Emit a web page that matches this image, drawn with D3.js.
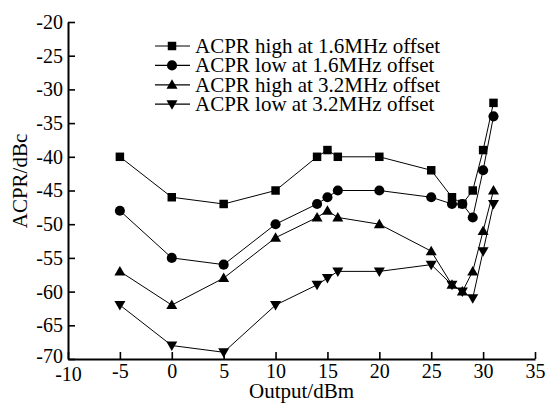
<!DOCTYPE html>
<html>
<head>
<meta charset="utf-8">
<script src="https://cdn.jsdelivr.net/npm/d3@7"></script>
<style>
body{margin:0;background:#fff;}
text{font-family:"Liberation Serif","Times New Roman",serif;fill:#000;}
</style>
</head>
<body>
<div id="chart"></div>
<script>
const WIDTH=547;
const HEIGHT=406;
const MARGIN={top:22,right:12,bottom:47,left:68};

// data
const outputDbm=[-5,0,5,10,14,15,16,20,25,27,28,29,30,31];
const highAt16=[-40,-46,-47,-45,-40,-39,-40,-40,-42,-46,-47,-45,-39,-32];
const lowAt16=[-48,-55,-56,-50,-47,-46,-45,-45,-46,-47,-47,-49,-42,-34];
const highAt32=[-57,-62,-58,-52,-49,-48,-49,-50,-54,-59,-60,-57,-51,-45];
const lowAt32=[-62,-68,-69,-62,-59,-58,-57,-57,-56,-59,-60,-61,-54,-47];
const seriesNames=["ACPR high at 1.6MHz offset","ACPR low at 1.6MHz offset","ACPR high at 3.2MHz offset","ACPR low at 3.2MHz offset"];
const xTicks=[-10,-5,0,5,10,15,20,25,30,35];
const yTicks=[-20,-25,-30,-35,-40,-45,-50,-55,-60,-65,-70];

const series=[
  {name:seriesNames[0],values:highAt16,symbol:d3.symbolSquare},
  {name:seriesNames[1],values:lowAt16,symbol:d3.symbolCircle},
  {name:seriesNames[2],values:highAt32,symbol:"up"},
  {name:seriesNames[3],values:lowAt32,symbol:"down"}
];

const svg=d3.select("#chart").append("svg")
  .attr("width",WIDTH).attr("height",HEIGHT);

const x=d3.scaleLinear().domain([-10,35]).range([MARGIN.left,WIDTH-MARGIN.right]);
const y=d3.scaleLinear().domain([-70,-20]).range([HEIGHT-MARGIN.bottom,MARGIN.top]);

function marker(sel,sym){
  if(sym==="up"||sym==="down"){
    const s=sym==="up"?1:-1;
    sel.append("path").attr("d",`M0,${-5.5*s}L5.5,${4*s}L-5.5,${4*s}Z`);
  }else{
    const size=sym===d3.symbolSquare?72:80;
    sel.append("path").attr("d",d3.symbol(sym,size)());
  }
}

const fmt=d=>String(d); // plain hyphen minus like the original

// axes
const xAxis=svg.append("g")
  .attr("transform",`translate(0,${y(-70)})`)
  .call(d3.axisBottom(x).tickValues(xTicks).tickSizeInner(-7).tickSizeOuter(0).tickPadding(5).tickFormat(fmt));
const yAxis=svg.append("g")
  .attr("transform",`translate(${x(-10)},0)`)
  .call(d3.axisLeft(y).tickValues(yTicks).tickSizeInner(-7).tickSizeOuter(0).tickPadding(5).tickFormat(fmt));

[xAxis,yAxis].forEach(a=>{
  a.attr("font-family",null).attr("font-size",null);
  a.select(".domain").attr("stroke","#000").attr("stroke-width",2);
  a.selectAll(".tick line").attr("stroke","#000").attr("stroke-width",1.6);
  a.selectAll(".tick text").style("font-size","20px").attr("fill","#000");
});
// corner labels nudged apart like the original
xAxis.selectAll(".tick text").filter(d=>d===-10).attr("dy","0.85em");
yAxis.selectAll(".tick text").filter(d=>d===-70).attr("dy","0.15em");

svg.append("text")
  .attr("x",(x(-10)+x(35))/2).attr("y",398)
  .attr("text-anchor","middle").style("font-size","21px")
  .text("Output/dBm");
svg.append("text")
  .attr("transform","translate(27,181) rotate(-90)")
  .attr("text-anchor","middle").style("font-size","21px")
  .text("ACPR/dBc");

// lines and markers
const line=d3.line().x((d,i)=>x(outputDbm[i])).y(d=>y(d));
series.forEach(s=>{
  svg.append("path").datum(s.values)
    .attr("d",line).attr("fill","none").attr("stroke","#000").attr("stroke-width",1);
  s.values.forEach((v,i)=>{
    const g=svg.append("g").attr("transform",`translate(${x(outputDbm[i])},${y(v)})`);
    marker(g,s.symbol);
  });
});

// legend
const legend=svg.append("g").attr("transform","translate(155,46)");
series.forEach((s,i)=>{
  const row=legend.append("g").attr("transform",`translate(0,${i*19.4})`);
  row.append("line").attr("x1",0).attr("x2",35).attr("stroke","#000").attr("stroke-width",1.2);
  marker(row.append("g").attr("transform","translate(17,0)"),s.symbol);
  row.append("text").attr("x",40).attr("y",7).style("font-size","21px").text(s.name);
});
</script>
</body>
</html>
